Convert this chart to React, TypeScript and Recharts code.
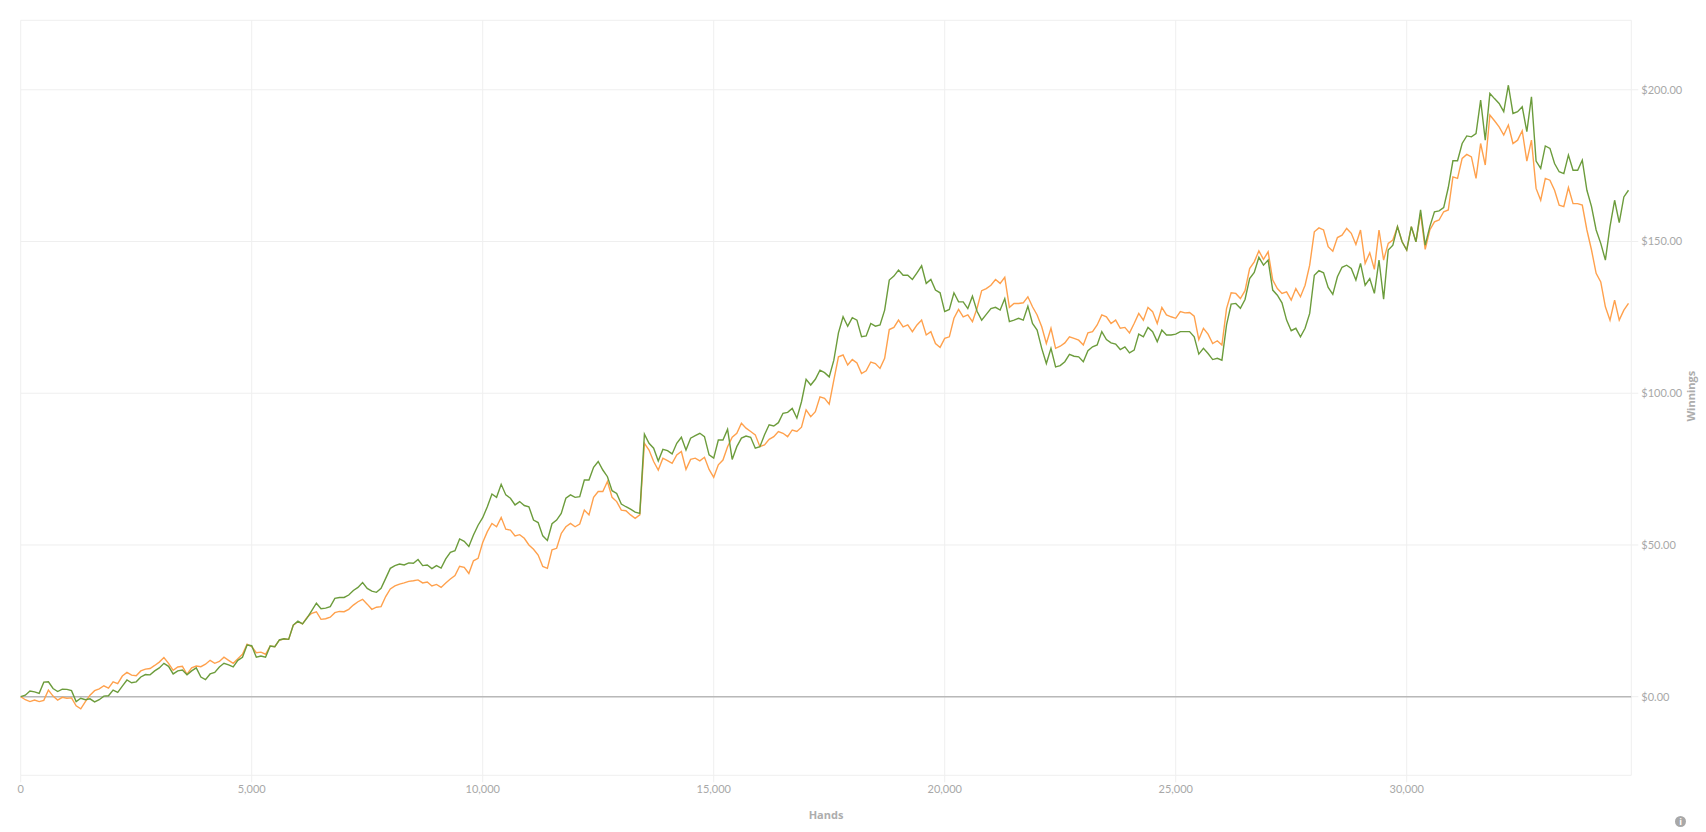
import React from "react";
import { CartesianGrid, Line, LineChart, ReferenceLine, XAxis, YAxis } from "recharts";

const hands = [
  0, 100, 200, 300, 400, 500, 600, 700, 800, 900,
  1000, 1100, 1200, 1300, 1400, 1500, 1600, 1700, 1800, 1900,
  2000, 2100, 2200, 2300, 2400, 2500, 2600, 2700, 2800, 2900,
  3000, 3100, 3200, 3300, 3400, 3500, 3600, 3700, 3800, 3900,
  4000, 4100, 4200, 4300, 4400, 4500, 4600, 4700, 4800, 4900,
  5000, 5100, 5200, 5300, 5400, 5500, 5600, 5700, 5800, 5900,
  6000, 6100, 6200, 6300, 6400, 6500, 6600, 6700, 6800, 6900,
  7000, 7100, 7200, 7300, 7400, 7500, 7600, 7700, 7800, 7900,
  8000, 8100, 8200, 8300, 8400, 8500, 8600, 8700, 8800, 8900,
  9000, 9100, 9200, 9300, 9400, 9500, 9600, 9700, 9800, 9900,
  10000, 10100, 10200, 10300, 10400, 10500, 10600, 10700, 10800, 10900,
  11000, 11100, 11200, 11300, 11400, 11500, 11600, 11700, 11800, 11900,
  12000, 12100, 12200, 12300, 12400, 12500, 12600, 12700, 12800, 12900,
  13000, 13100, 13200, 13300, 13400, 13500, 13600, 13700, 13800, 13900,
  14000, 14100, 14200, 14300, 14400, 14500, 14600, 14700, 14800, 14900,
  15000, 15100, 15200, 15300, 15400, 15500, 15600, 15700, 15800, 15900,
  16000, 16100, 16200, 16300, 16400, 16500, 16600, 16700, 16800, 16900,
  17000, 17100, 17200, 17300, 17400, 17500, 17600, 17700, 17800, 17900,
  18000, 18100, 18200, 18300, 18400, 18500, 18600, 18700, 18800, 18900,
  19000, 19100, 19200, 19300, 19400, 19500, 19600, 19700, 19800, 19900,
  20000, 20100, 20200, 20300, 20400, 20500, 20600, 20700, 20800, 20900,
  21000, 21100, 21200, 21300, 21400, 21500, 21600, 21700, 21800, 21900,
  22000, 22100, 22200, 22300, 22400, 22500, 22600, 22700, 22800, 22900,
  23000, 23100, 23200, 23300, 23400, 23500, 23600, 23700, 23800, 23900,
  24000, 24100, 24200, 24300, 24400, 24500, 24600, 24700, 24800, 24900,
  25000, 25100, 25200, 25300, 25400, 25500, 25600, 25700, 25800, 25900,
  26000, 26100, 26200, 26300, 26400, 26500, 26600, 26700, 26800, 26900,
  27000, 27100, 27200, 27300, 27400, 27500, 27600, 27700, 27800, 27900,
  28000, 28100, 28200, 28300, 28400, 28500, 28600, 28700, 28800, 28900,
  29000, 29100, 29200, 29300, 29400, 29500, 29600, 29700, 29800, 29900,
  30000, 30100, 30200, 30300, 30400, 30500, 30600, 30700, 30800, 30900,
  31000, 31100, 31200, 31300, 31400, 31500, 31600, 31700, 31800, 31900,
  32000, 32100, 32200, 32300, 32400, 32500, 32600, 32700, 32800, 32900,
  33000, 33100, 33200, 33300, 33400, 33500, 33600, 33700, 33800, 33900,
  34000, 34100, 34200, 34300, 34400, 34500, 34600, 34700, 34800,
];

const greenWinnings = [
  0, 0.5, 1.9, 1.6, 1.1, 4.8, 4.9, 2.7, 1.7, 2.5,
  2.4, 2, -1.6, -0.5, -1, -0.7, -1.7, -1, 0.2, 0.3,
  2.2, 1.4, 3.5, 5.5, 4.6, 4.9, 6.5, 7.3, 7.2, 8.5,
  9.5, 11, 10, 7.5, 8.5, 8.8, 7.2, 8.5, 9.5, 6.5,
  5.6, 7.5, 8, 9.8, 11, 10.5, 9.8, 12, 13, 17,
  16.8, 13, 13.4, 13, 16.7, 16.5, 18.7, 19.1, 18.9, 23.6,
  24.9, 24, 26, 28.4, 30.8, 29, 29.2, 29.7, 32.4, 32.7,
  32.7, 33.5, 35, 36, 37.6, 35.7, 34.8, 34.4, 35.7, 39,
  42.3, 43.2, 43.7, 43.4, 44.1, 44, 45.2, 43.2, 43.4, 42.2,
  43.2, 42.4, 45.4, 47.6, 48.1, 52, 51.2, 49.5, 53.3, 56.5,
  59, 62.6, 66.8, 65.7, 70, 66.5, 65.4, 63.2, 64.3, 63,
  62.6, 58.2, 57.4, 53, 51.5, 57, 58.2, 60.4, 65.4, 66.5,
  65.7, 65.9, 71.4, 71.4, 75.6, 77.5, 74.7, 72.5, 67.9, 67,
  63.5, 62.6, 61.8, 60.8, 60.4, 86.5, 83.5, 81.9, 77.7, 81.5,
  81.1, 80, 83.5, 85.5, 81.3, 85.2, 86, 86.8, 85.7, 79.7,
  78.6, 84.6, 84.6, 88.1, 78.2, 82.4, 85.2, 85.9, 85.5, 81.9,
  82.4, 86.3, 89.6, 89.2, 90.3, 93.4, 93.7, 95, 91.8, 97.2,
  104.6, 102.7, 104.6, 107.6, 106.8, 105.4, 110.9, 119.9, 125.2, 122.1,
  124.9, 124.1, 118.6, 118.9, 123, 122.1, 122.5, 127.4, 137.3, 138.6,
  140.6, 138.9, 138.9, 137.5, 139.7, 142, 136.2, 137.5, 134, 133.1,
  126.9, 127.6, 133.1, 130.1, 130.1, 127.9, 132, 127, 124.1, 126,
  127.9, 128.3, 127.4, 131.2, 123.6, 124.1, 124.7, 124.1, 128.7, 123,
  120.8, 114.8, 109.8, 114.8, 108.7, 109.1, 110.4, 112.8, 112.2, 112,
  110.4, 114, 115.3, 115.9, 120.3, 117.7, 116.6, 116.2, 114.4, 115.3,
  113.3, 114.2, 119.5, 118.6, 121.7, 120.3, 117, 120.8, 119.2, 119.2,
  119.5, 120.3, 120.3, 120.3, 118.6, 112.9, 114.8, 113.1, 111.1, 111.5,
  110.9, 122.5, 129.4, 129.6, 128, 130.9, 137.8, 139.8, 144.8, 142.2,
  143.9, 134, 132.3, 129.8, 124.1, 120.6, 121.4, 118.6, 121.4, 126.3,
  138.9, 140.4, 139.7, 134.9, 132.6, 138.4, 141.5, 142.2, 141.1, 137.3,
  142.8, 135.6, 137.8, 132.9, 143.9, 131, 147.2, 148.8, 154.9, 149.9,
  147.2, 154.9, 149.9, 160.4, 148.8, 154.9, 159.8, 160.1, 161.2, 167.8,
  176.6, 176.6, 182.3, 184.8, 184.5, 185.6, 196.6, 183.4, 198.8, 197.1,
  195.5, 192.8, 201.5, 192.2, 192.8, 194.4, 186.2, 197.7, 176.5, 174.1,
  181.5, 180.7, 175.7, 173, 172.4, 178.5, 173.5, 173.5, 176.8, 166.9,
  161.5, 153.8, 149.4, 143.9, 154.9, 163.6, 156.2, 164.7, 166.9,
];

const orangeWinnings = [
  0, -1, -1.6, -1.1, -1.6, -1.2, 2.2, 0.2, -1.1, -0.2,
  -0.5, -0.4, -3, -4, -1.6, 0.5, 2, 2.6, 3.6, 2.8,
  4.9, 4.3, 6.8, 8, 7.1, 6.9, 8.5, 9.1, 9.3, 10.3,
  11.4, 12.9, 11, 8.7, 9.8, 10, 7.4, 9.5, 10.1, 9.9,
  10.7, 12, 11, 11.6, 13, 12, 11, 12.5, 14, 17.3,
  16.5, 14.5, 14.7, 14, 16.7, 16.5, 18.7, 19, 18.9, 23.6,
  24.7, 24, 26.2, 27.5, 28, 25.5, 25.7, 26.2, 27.7, 28.1,
  28, 28.8, 30.2, 31.3, 32.1, 30.5, 28.8, 29.5, 29.7, 33,
  35.5, 36.5, 37.1, 37.5, 38, 38.2, 38.5, 37.5, 37.8, 36.5,
  37, 36, 37.5, 38.8, 39.9, 43, 42.6, 40.6, 44.8, 45.6,
  50.8, 54.4, 57.1, 56, 59.1, 55.2, 54.9, 53, 53.4, 52.2,
  50, 48.6, 46.7, 42.9, 42.3, 48.4, 48.9, 53.8, 56, 57.1,
  56, 56.9, 61.5, 59.9, 65.7, 67.6, 67.6, 70.9, 65.7, 64.3,
  61.5, 61.3, 59.9, 58.8, 59.9, 83.5, 81.3, 77.5, 74.7, 78.6,
  77.8, 76.9, 79.7, 80.8, 74.9, 78.2, 78.6, 77.7, 78.9, 74.9,
  72.3, 76.4, 78, 82.4, 85.5, 86.8, 90.1, 88.5, 87.4, 86.3,
  82.4, 83, 84.8, 85.7, 87.4, 86.8, 85.7, 87.9, 87.4, 88.8,
  94.5, 92.3, 93.9, 98.8, 98.3, 96.4, 104.3, 112, 112.6, 109.3,
  111.1, 110, 106.5, 107.4, 110.3, 109.8, 108.2, 111.5, 121, 121.7,
  124.1, 121.9, 122.5, 120.3, 122.5, 124.1, 119.2, 120.3, 116.4, 115.1,
  118.1, 118.6, 124.7, 127.6, 125.2, 125.8, 123.6, 128, 133.8, 134.5,
  135.6, 137.5, 136.2, 138.2, 128.3, 129.6, 129.6, 129.8, 131.8, 128.5,
  125.8, 121.9, 116.4, 121.4, 114.8, 115.5, 116.6, 118.6, 118.1, 117.5,
  115.9, 119.9, 120.3, 122.5, 125.8, 125.2, 123, 124.1, 121.4, 121.7,
  119.9, 123, 126.3, 124.1, 128.3, 126.9, 123, 128.3, 125.8, 125.2,
  124.7, 126.9, 126.5, 126.6, 125.4, 117.7, 121.4, 119.5, 116.4, 117.3,
  115.9, 127.9, 133.1, 132.9, 131.2, 133.8, 141.1, 143.3, 146.9, 144.1,
  146.6, 137.3, 134.5, 132.9, 133.4, 130.7, 134.5, 131.8, 135.6, 142.2,
  153.2, 154.5, 153.8, 148.3, 146.8, 151.3, 152.1, 154.3, 152.7, 149,
  153.8, 142.8, 146.3, 140.8, 153.8, 143.9, 149.4, 150.5, 154.9, 149.9,
  147.2, 154.9, 149.9, 159.3, 147.4, 153.8, 156.5, 157.1, 159.8, 160.4,
  171.3, 170.8, 177.4, 178.7, 177.9, 170.8, 182.3, 175.2, 191.7, 189.8,
  187.8, 185.1, 188.4, 182.3, 183.4, 186.5, 176.5, 183.4, 167.5, 163.6,
  170.8, 170.2, 166.9, 162, 161.5, 167.8, 162.5, 162.5, 162, 153.8,
  147.2, 139.5, 136.7, 128.5, 124.1, 130.7, 124.1, 127.4, 129.6,
];

const xTicks = [0, 5000, 10000, 15000, 20000, 25000, 30000];
const yTicks = [0, 50, 100, 150, 200];
const xMax = 34861;
const yMin = -25.9;
const yMax = 222.9;

const rows = hands.map((h, i) => ({ hands: h, green: greenWinnings[i], orange: orangeWinnings[i] }));

const tickStyle = { fill: "#a8a8a8", fontSize: 11, fontFamily: "Lato, sans-serif" };
const titleStyle = { fill: "#adadad", fontSize: 11, fontWeight: 700, fontFamily: '"Open Sans", sans-serif' };
const gridColor = "#efefef";

export default function App() {
  return (
    <div style={{ position: "absolute", left: 0, top: 0, width: 1706, height: 832, background: "#fff" }}>
      <LineChart width={1706} height={832} data={rows} margin={{ top: 20.3, right: 0, bottom: 0, left: 20.7 }}>
        <CartesianGrid
          stroke={gridColor}
          strokeWidth={1}
          verticalValues={[...xTicks, xMax]}
          horizontalValues={[yMin, ...yTicks, yMax]}
        />
        <XAxis
          dataKey="hands"
          type="number"
          domain={[0, xMax]}
          ticks={xTicks}
          height={56.7}
          axisLine={false}
          tickLine={{ stroke: gridColor }}
          tickSize={7}
          tickMargin={3}
          tick={tickStyle}
          tickFormatter={(v: number) => v.toLocaleString("en-US")}
          label={{ value: "Hands", position: "insideBottom", offset: 13, style: titleStyle }}
        />
        <YAxis
          orientation="right"
          type="number"
          domain={[yMin, yMax]}
          ticks={yTicks}
          width={74.7}
          axisLine={false}
          tickLine={{ stroke: gridColor }}
          tickSize={7}
          tickMargin={3}
          tick={tickStyle}
          tickFormatter={(v: number) => `$${v.toFixed(2)}`}
          label={{ value: "Winnings", angle: -90, position: "insideRight", offset: 15, dy: -27, style: titleStyle }}
        />
        <ReferenceLine y={0} stroke="#b8b8b8" strokeWidth={1.5} />
        <Line dataKey="orange" stroke="#ffa14d" strokeWidth={1.4} dot={false} isAnimationActive={false} />
        <Line dataKey="green" stroke="#6c9c3c" strokeWidth={1.4} dot={false} isAnimationActive={false} />
      </LineChart>
      <div
        style={{
          position: "absolute",
          left: 1675,
          top: 816,
          width: 11,
          height: 11,
          borderRadius: "50%",
          background: "#a8a8a8",
          color: "#fff",
          fontSize: 9,
          fontWeight: 700,
          lineHeight: "11px",
          textAlign: "center",
          fontFamily: '"Open Sans", sans-serif',
        }}
      >
        i
      </div>
    </div>
  );
}
